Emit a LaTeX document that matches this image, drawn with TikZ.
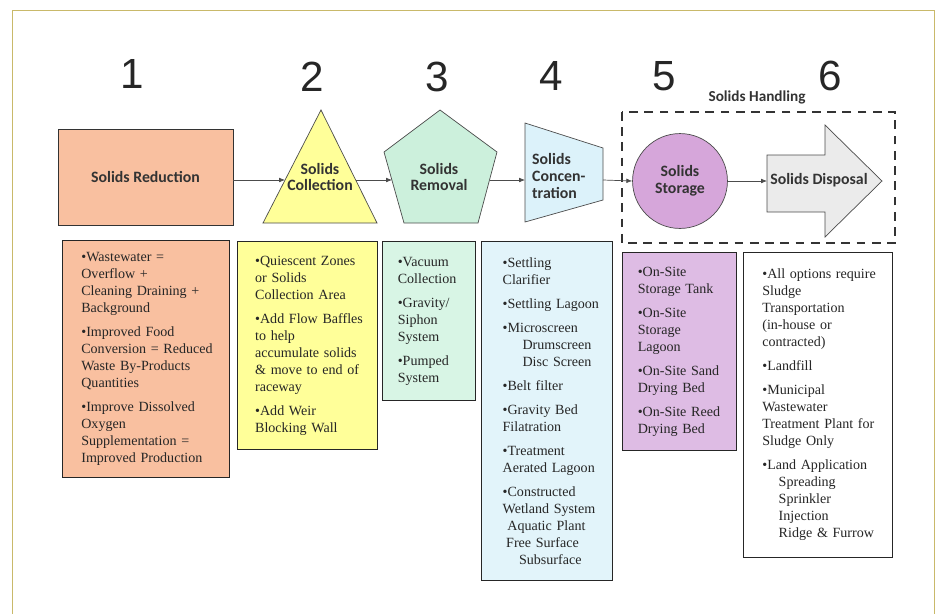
\documentclass[tikz,border=0pt]{standalone}
\usepackage{fontspec}
\setmainfont{Liberation Serif}
\newfontfamily\shapefont{Carlito}
\newfontfamily\numfont{Liberation Sans}
\usetikzlibrary{arrows.meta}
\definecolor{SRsalmon}{HTML}{F9C0A0}
\definecolor{SRyellow}{HTML}{FFFF99}
\definecolor{SRgreen}{HTML}{CCF0DC}
\definecolor{SRgreenlt}{HTML}{D8F5E5}
\definecolor{SRblue}{HTML}{DCF2FA}
\definecolor{SRbluelt}{HTML}{E2F4FA}
\definecolor{SRpurple}{HTML}{D6A6DA}
\definecolor{SRpurplelt}{HTML}{DEBCE4}
\definecolor{SRgray}{HTML}{EBEBEB}
\definecolor{SRframe}{HTML}{C9B96A}

\begin{document}
\begin{tikzpicture}[x=0.03cm, y=-0.03cm,
  shapetext/.style={align=center, inner sep=0pt, text=black!80, font=\shapefont\bfseries\fontsize{13.5}{14.5}\selectfont},
  stepnum/.style={text=black!85, font=\numfont\fontsize{36}{36}\selectfont},
  outline/.style={draw=black!70, line width=0.6pt},
  listbox/.style={draw=black!85, line width=1pt, fill=#1, anchor=north west, align=left, inner xsep=9pt, inner ysep=8pt, text=black!85, font=\fontsize{12}{14.5}\selectfont},
  indent/.style={execute at begin node={\leftskip=#1}},
  flow/.style={-{Latex[length=5pt,width=4pt]}, draw=black!70, line width=0.6pt}
]
\useasboundingbox (0,0) rectangle (941,614);
\draw[SRframe, line width=0.8pt] (12,614) -- (12,10) -- (934,10) -- (934,614);

% step numbers
\node[stepnum] (num1) at (132,74) {1};
\node[stepnum] (num2) at (312,77) {2};
\node[stepnum] (num3) at (437,77) {3};
\node[stepnum] (num4) at (551,76) {4};
\node[stepnum] (num5) at (664,76) {5};
\node[stepnum] (num6) at (830,76) {6};

% process shapes
\node[outline, draw=black!80, line width=0.8pt, fill=SRsalmon, minimum width=149.4pt, minimum height=81.9pt, shapetext] (reduct) at (145.5,177) {Solids Reduction};
\path[outline, fill=SRyellow] (321,110) -- (377,223) -- (263,223) -- cycle;
\node[shapetext] (collect) at (320,177) {Solids\\Collection};
\path[outline, fill=SRgreen] (440,110) -- (497,152) -- (478,223) -- (404,223) -- (384,152) -- cycle;
\node[shapetext] (removal) at (439,177) {Solids\\Removal};
\path[outline, fill=SRblue] (525,123) -- (603,148) -- (603,200) -- (525,222) -- cycle;
\node[shapetext, align=left, anchor=west] (conc) at (532,176) {Solids\\Concen-\\tration};
\node[outline, circle, fill=SRpurple, minimum size=81pt, shapetext] (storage) at (680,181) {Solids\\Storage};
\path[outline, fill=SRgray] (767,155) -- (825,155) -- (825,125) -- (882,181) -- (825,237) -- (825,212) -- (767,212) -- cycle;
\node[shapetext] (dispose) at (819,180) {Solids Disposal};

% solids handling group
\draw[black!80, line width=2pt, dash pattern=on 7.5pt off 5.5pt] (622,112) rectangle (895,243);
\node[shapetext, font=\shapefont\bfseries\fontsize{13}{14}\selectfont] (handling) at (757,97) {Solids Handling};

% connectors
\coordinate (collect-in) at (285,180);
\coordinate (collect-out) at (356,180);
\coordinate (removal-in) at (392,180);
\coordinate (removal-out) at (490,180);
\coordinate (conc-in) at (525,180);
\coordinate (conc-out) at (603,180);
\coordinate (dispose-in) at (767,181);
\draw[flow] (reduct.east |- collect-in) -- (collect-in);
\draw[flow] (collect-out) -- (removal-in);
\draw[flow] (removal-out) -- (conc-in);
\draw[flow] (conc-out) -- (storage.west);
\draw[flow] (storage.east) -- (dispose-in);

% option lists
\node[listbox=SRsalmon, text width=124.5pt, minimum height=202.3pt, indent=7pt] (reduct-list) at (62,240) {%
•Wastewater =\\
Overflow +\\
Cleaning Draining +\\
Background\\[6pt]
•Improved Food\\
Conversion = Reduced\\
Waste By-Products\\
Quantities\\[6pt]
•Improve Dissolved\\
Oxygen\\
Supplementation =\\
Improved Production};
\node[listbox=SRyellow, text width=101.5pt, minimum height=177.5pt, indent=6pt] (collect-list) at (237,241) {%
•Quiescent Zones\\
or Solids\\
Collection Area\\[6pt]
•Add Flow Baffles\\
to help\\
accumulate solids\\
\& move to end of\\
raceway\\[6pt]
•Add Weir\\
Blocking Wall};
\node[listbox=SRgreenlt, text width=61.4pt, minimum height=135.7pt, indent=4pt] (removal-list) at (382,241) {%
•Vacuum\\
Collection\\[6pt]
•Gravity/\\
Siphon\\
System\\[6pt]
•Pumped\\
System};
\node[listbox=SRbluelt, text width=93.8pt, minimum height=289.4pt, indent=9pt] (conc-list) at (481,241) {%
•Settling\\
Clarifier\\[6pt]
•Settling Lagoon\\[6pt]
•Microscreen\\
\hspace*{17pt}Drumscreen\\
\hspace*{17pt}Disc Screen\\[6pt]
•Belt filter\\[6pt]
•Gravity Bed\\
Filatration\\[6pt]
•Treatment\\
Aerated Lagoon\\[6pt]
•Constructed\\
Wetland System\\
\hspace*{4pt}Aquatic Plant\\
\hspace*{3pt}Free Surface\\
\hspace*{14pt}Subsurface};
\node[listbox=SRpurplelt, text width=79.3pt, minimum height=169pt, indent=4pt] (storage-list) at (622,252) {%
•On-Site\\
Storage Tank\\[6pt]
•On-Site\\
Storage\\
Lagoon\\[6pt]
•On-Site Sand\\
Drying Bed\\[6pt]
•On-Site Reed\\
Drying Bed};
\node[listbox=white, text width=109.2pt, minimum height=260.3pt, indent=7pt] (dispose-list) at (743,252) {%
•All options require\\
Sludge\\
Transportation\\
(in-house or\\
contracted)\\[6pt]
•Landfill\\[6pt]
•Municipal\\
Wastewater\\
Treatment Plant for\\
Sludge Only\\[6pt]
•Land Application\\
\hspace*{14pt}Spreading\\
\hspace*{14pt}Sprinkler\\
\hspace*{14pt}Injection\\
\hspace*{14pt}Ridge \& Furrow};
\end{tikzpicture}
\end{document}
